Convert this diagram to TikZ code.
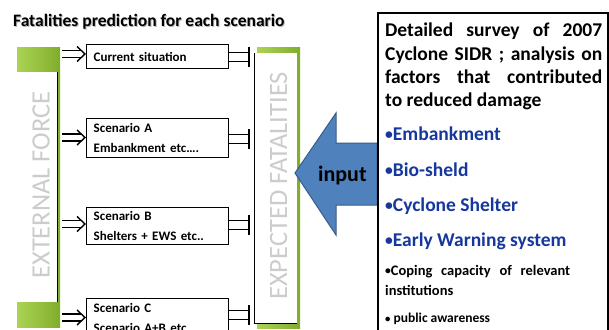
\documentclass[tikz,border=0pt]{standalone}
\usepackage{fontspec}
\usepackage{graphicx}
\setmainfont{Carlito}
\usetikzlibrary{calc}
\definecolor{dblue}{RGB}{22,55,155}
\definecolor{arrowfill}{RGB}{79,129,189}
\definecolor{arrowline}{RGB}{56,93,138}
\definecolor{gl}{RGB}{172,212,84}
\definecolor{gd}{RGB}{128,172,44}
\newcommand{\bul}{\raisebox{0.5pt}{\scalebox{0.8}{•}}}
\begin{document}
\begin{tikzpicture}[x=1pt,y=-1pt,
  scbox/.style={draw, line width=1.4pt, anchor=north west, text width=128pt,
    inner xsep=7pt, inner ysep=3pt, align=left,
    font=\fontsize{13}{19.5}\selectfont\bfseries},
  dline/.style={line width=1.4pt},
  vtext/.style={rotate=90, inner sep=0pt, text=gray!40, font=\fontsize{26.5}{26.5}\selectfont},
  bluetext/.style={anchor=base west, inner sep=0pt, text=dblue, font=\fontsize{19.5}{19.5}\selectfont\bfseries},
  partext/.style={anchor=base west, inner sep=0pt, font=\fontsize{19.5}{19.5}\selectfont\bfseries},
]
\useasboundingbox (0,0) rectangle (609,329);

% title with shadow
\node[anchor=base west, inner sep=0pt, text=gray!55, font=\fontsize{17.5}{17.5}\selectfont\bfseries] at (14,27.7) {Fatalities prediction for each scenario};
\node[anchor=base west, inner sep=0pt, font=\fontsize{17.5}{17.5}\selectfont\bfseries] (title) at (13,26.7) {Fatalities prediction for each scenario};

% left bar
\shade[left color=gl, right color=gd] (17,48) rectangle (60,327);
\fill[white] (8,72) rectangle (57,302);
\draw[line width=0.6pt] (57,72) -- (57,302);
\node[vtext] (ext) at (41,185) {EXTERNAL FORCE};

% right bar
\shade[left color=gl, right color=gd] (257,48) rectangle (300,328);
\fill[white] (254,53) rectangle (297,323);
\draw[line width=0.6pt] (254,53) -- (254,323) -- (297,323);
\node[vtext] (exp) at (278.5,186) {EXPECTED FATALITIES};

% scenario boxes
\node[scbox, minimum height=24pt] (cur) at (86,44) {Current situation};
\node[scbox, minimum height=39pt] (sa) at (86,118) {Scenario A\\Embankment etc….};
\node[scbox, minimum height=37pt] (sb) at (86,207) {Scenario B\\Shelters + EWS etc..};
\node[scbox, minimum height=39pt] (sc) at (86,298) {Scenario C\\Scenario A+B etc...};

% input arrows (double-line arrows)
\coordinate (a0) at (62,54);
\coordinate (a1) at (62,137.5);
\coordinate (a2) at (62,224);
\coordinate (a3) at (62,317.5);
\foreach \a/\n in {a0/cur,a1/sa,a2/sb,a3/sc}{
  \draw[dline] (\a) ++(0,-3.6) -- ($(\a -| \n.west)+(-4.8,-3.6)$);
  \draw[dline] (\a) ++(0,3.6) -- ($(\a -| \n.west)+(-4.8,3.6)$);
  \draw[dline, line join=miter] ($(\a -| \n.west)+(-9,-7.5)$) -- ($(\a -| \n.west)+(-1,0)$) -- ($(\a -| \n.west)+(-9,7.5)$);
}

% output connectors (double lines ending in a bar)
\coordinate (b0) at (249,57);
\coordinate (b1) at (249,139);
\coordinate (b2) at (249,225);
\coordinate (b3) at (249,315);
\foreach \c/\n in {b0/cur,b1/sa,b2/sb,b3/sc}{
  \draw[dline] ($(\c -| \n.east)+(0,-4.5)$) -- ($(\c)+(0,-4.5)$);
  \draw[dline] ($(\c -| \n.east)+(0,4.5)$) -- ($(\c)+(0,4.5)$);
  \draw[dline] ($(\c)+(0,-10)$) -- ($(\c)+(0,10)$);
}

% blue input arrow
\filldraw[fill=arrowfill, draw=arrowline, line width=1pt]
  (295,173) -- (336,113) -- (336,143) -- (377,143) -- (377,205) -- (336,205) -- (336,235) -- cycle;
\node[anchor=base west, inner sep=0pt, font=\fontsize{22}{22}\selectfont\bfseries] (inp) at (318,181.7) {input};

% survey box
\draw[line width=2pt] (377.5,13) rectangle (607.5,345);
\node[partext] (p1) at (385,36.7) {\makebox[217pt][s]{Detailed survey of 2007}};
\node[partext] (p2) at (385,60) {\makebox[217pt][s]{Cyclone SIDR ; analysis on}};
\node[partext] (p3) at (385,83.3) {\makebox[217pt][s]{factors that contributed}};
\node[partext] (p4) at (385,106.7) {to reduced damage};
\node[bluetext] (f1) at (385,140) {\bul Embankment};
\node[bluetext] (f2) at (385,176) {\bul Bio-sheld};
\node[bluetext] (f3) at (385,211) {\bul Cyclone Shelter};
\node[bluetext] (f4) at (385,246) {\bul Early Warning system};
\node[anchor=base west, inner sep=0pt, font=\fontsize{14.5}{14.5}\selectfont\bfseries] (g1) at (385,275) {\makebox[185pt][s]{\bul Coping capacity of relevant}};
\node[anchor=base west, inner sep=0pt, font=\fontsize{14.5}{14.5}\selectfont\bfseries] (g2) at (385,295) {institutions};
\node[anchor=base west, inner sep=0pt, font=\fontsize{13.5}{13.5}\selectfont\bfseries] (g3) at (385,322.7) {\bul{} public awareness};
\end{tikzpicture}
\end{document}
